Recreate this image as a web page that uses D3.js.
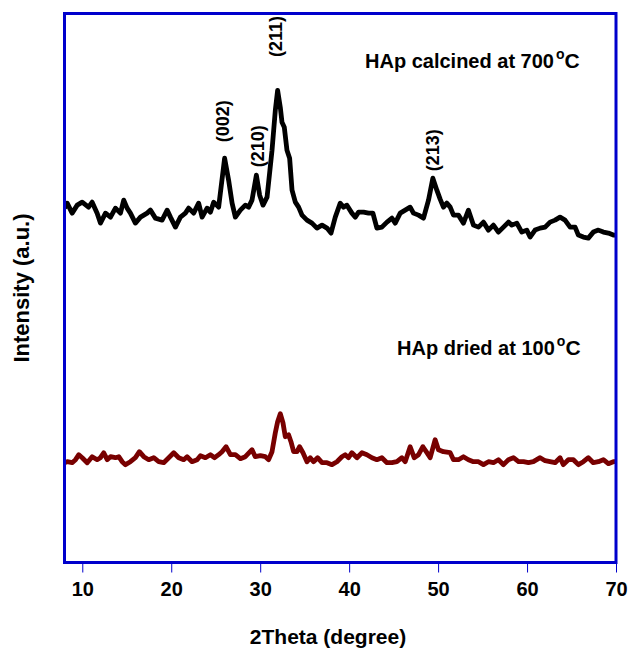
<!DOCTYPE html>
<html>
<head>
<meta charset="utf-8">
<script src="https://cdn.jsdelivr.net/npm/d3@7"></script>
<style>
  html, body { margin: 0; padding: 0; background: #fff; }
  text { font-family: "Liberation Sans", Arial, sans-serif; font-weight: bold; fill: #000; }
</style>
</head>
<body>
<svg id="chart" width="630" height="648"></svg>
<script>
// ---- data ----
const calcinedTheta = [8.0,8.30,8.86,9.43,9.99,10.70,11.11,11.67,12.04,12.61,13.17,13.73,14.29,14.66,15.04,15.41,15.97,16.54,17.29,17.66,18.22,18.97,19.54,19.91,20.47,21.03,21.59,21.96,22.52,23.08,23.47,24.03,24.40,24.77,25.33,26.00,26.45,26.84,27.21,27.77,28.33,28.70,29.08,29.57,29.94,30.32,30.77,31.33,31.70,31.96,32.26,32.45,32.71,33.01,33.31,33.58,33.95,34.32,34.70,35.26,35.82,36.38,36.95,37.51,37.96,38.44,39.00,39.37,39.75,40.31,40.69,41.06,41.62,42.18,42.67,43.12,43.68,44.25,44.81,45.18,45.74,46.30,46.86,47.23,47.80,48.36,48.92,49.41,49.86,50.23,50.60,50.98,51.36,51.73,52.29,52.85,53.41,53.97,54.54,55.10,55.66,56.22,56.78,57.35,57.91,58.29,58.85,59.41,59.97,60.34,60.90,61.47,62.03,62.59,63.15,63.71,64.27,64.84,65.40,65.77,66.33,66.89,67.45,68.02,68.58,69.14,69.70,70.0];
const calcinedIntensity = [355,360,350,358,361,356,361,350,340,350,346,355,350,363,355,350,340,346,350,353,345,343,353,346,336,346,350,355,350,360,346,355,351,361,356,405,383,360,346,353,358,356,363,388,368,358,366,413,453,473,456,441,436,413,405,373,361,356,348,343,340,335,338,335,330,346,360,356,358,350,346,351,351,350,350,335,336,341,345,340,350,353,356,350,348,345,363,385,373,364,356,360,356,348,348,340,353,338,336,341,333,338,331,336,341,338,340,331,333,326,333,335,336,341,343,346,343,336,336,328,326,325,331,333,331,330,328,328];

const driedTheta = [8.0,8.30,8.86,9.24,9.61,9.99,10.55,11.11,11.67,12.04,12.41,12.80,13.17,13.73,14.10,14.48,14.85,15.41,15.97,16.42,16.91,17.47,18.03,18.59,19.15,19.72,20.28,20.84,21.40,21.78,22.34,22.91,23.28,23.84,24.40,24.88,25.33,25.71,26.16,26.65,27.21,27.77,28.33,29.08,29.45,30.02,30.58,30.95,31.33,31.70,31.96,32.26,32.56,32.82,33.19,33.46,33.76,34.14,34.43,34.81,35.26,35.63,36.00,36.45,36.95,37.51,38.07,38.63,39.19,39.56,39.93,40.31,40.88,41.44,42.00,42.56,43.12,43.68,44.25,44.81,45.37,45.93,46.30,46.86,47.31,47.80,48.29,48.74,49.11,49.67,50.04,50.60,51.36,51.73,52.29,52.85,53.41,53.97,54.54,55.10,55.66,56.22,56.78,57.35,57.91,58.47,59.04,59.60,60.16,60.71,61.47,62.03,62.59,63.15,63.71,64.08,64.64,65.21,65.77,66.33,66.89,67.45,68.02,68.58,69.14,69.70,70.0];
const driedIntensity = [100,101,100,103,108,105,100,106,103,105,110,103,106,105,106,101,98,101,105,111,106,103,105,101,100,105,110,105,103,106,101,103,107,105,108,105,108,111,116,108,108,104,106,113,106,107,106,103,111,130,141,149,140,126,128,121,111,111,116,110,101,105,101,105,100,100,98,101,106,108,105,110,105,110,108,105,103,105,100,100,101,105,101,116,105,108,116,110,105,123,113,111,110,103,103,106,103,101,101,98,101,100,103,98,103,105,101,101,100,101,105,102,101,100,105,98,103,103,98,101,105,100,101,103,99,101,101];

const xTickValues = [10, 20, 30, 40, 50, 60, 70];
const peakLabels = ["(002)", "(210)", "(211)", "(213)"];
const peakTheta = [25.85, 29.75, 31.8, 49.45];
const peakLabelIntensity = [442, 417, 527, 413];
const seriesNames = ["HAp calcined at 700", "HAp dried at 100"];

// ---- layout ----
const svg = d3.select("#chart");
const x = d3.scaleLinear().domain([8, 70]).range([64.5, 616]);
const y = d3.scaleLinear().domain([0, 550]).range([562.5, 13.5]);
const BLUE = "#0000cc";

svg.append("clipPath").attr("id", "plotclip")
  .append("rect").attr("x", 64.5).attr("y", 13.5).attr("width", 551.5).attr("height", 549);

const line = d3.line().x(d => x(d[0])).y(d => y(d[1]));
const calcined = calcinedTheta.map((t, i) => [t, calcinedIntensity[i]]);
const dried = driedTheta.map((t, i) => [t, driedIntensity[i]]);

const g = svg.append("g").attr("clip-path", "url(#plotclip)");
g.append("path").datum(dried).attr("d", line)
  .attr("fill", "none").attr("stroke", "#780000").attr("stroke-width", 4.8)
  .attr("stroke-linejoin", "round");
g.append("path").datum(calcined).attr("d", line)
  .attr("fill", "none").attr("stroke", "#000").attr("stroke-width", 4.8)
  .attr("stroke-linejoin", "round");

// axis
const xAxis = d3.axisBottom(x).tickValues(xTickValues).tickSize(10).tickPadding(9).tickFormat(d3.format("d"));
const ax = svg.append("g").attr("transform", `translate(0,${y(0)})`).call(xAxis);
ax.select(".domain").remove();
ax.selectAll(".tick line").attr("stroke", BLUE).attr("stroke-width", 1);
ax.selectAll(".tick text").attr("font-size", 20).attr("fill", "#000")
  .attr("font-family", "Liberation Sans, Arial, sans-serif").attr("font-weight", "bold");

// frame
svg.append("rect").attr("x", x(8)).attr("y", y(550)).attr("width", x(70) - x(8)).attr("height", y(0) - y(550))
  .attr("fill", "none").attr("stroke", BLUE).attr("stroke-width", 3);

// axis titles
svg.append("text").attr("x", 328).attr("y", 644).attr("text-anchor", "middle")
  .attr("font-size", 21).text("2Theta (degree)");
svg.append("text").attr("transform", "translate(29,288) rotate(-90)").attr("text-anchor", "middle")
  .attr("font-size", 22).text("Intensity (a.u.)");

// peak labels
peakLabels.forEach((lab, i) => {
  svg.append("text")
    .attr("transform", `translate(${x(peakTheta[i]) + 6},${y(peakLabelIntensity[i])}) rotate(-90)`)
    .attr("text-anchor", "middle").attr("font-size", 18).text(lab);
});

// series labels
function seriesLabel(px, py, name) {
  const t = svg.append("text").attr("x", px).attr("y", py).attr("font-size", 20);
  t.append("tspan").text(name);
  t.append("tspan").attr("dx", 2).attr("dy", -9).attr("font-size", 14).text("o");
  t.append("tspan").attr("dy", 9).attr("font-size", 21).text("C");
}
seriesLabel(365, 68, seriesNames[0]);
seriesLabel(397, 355, seriesNames[1]);
</script>
</body>
</html>
